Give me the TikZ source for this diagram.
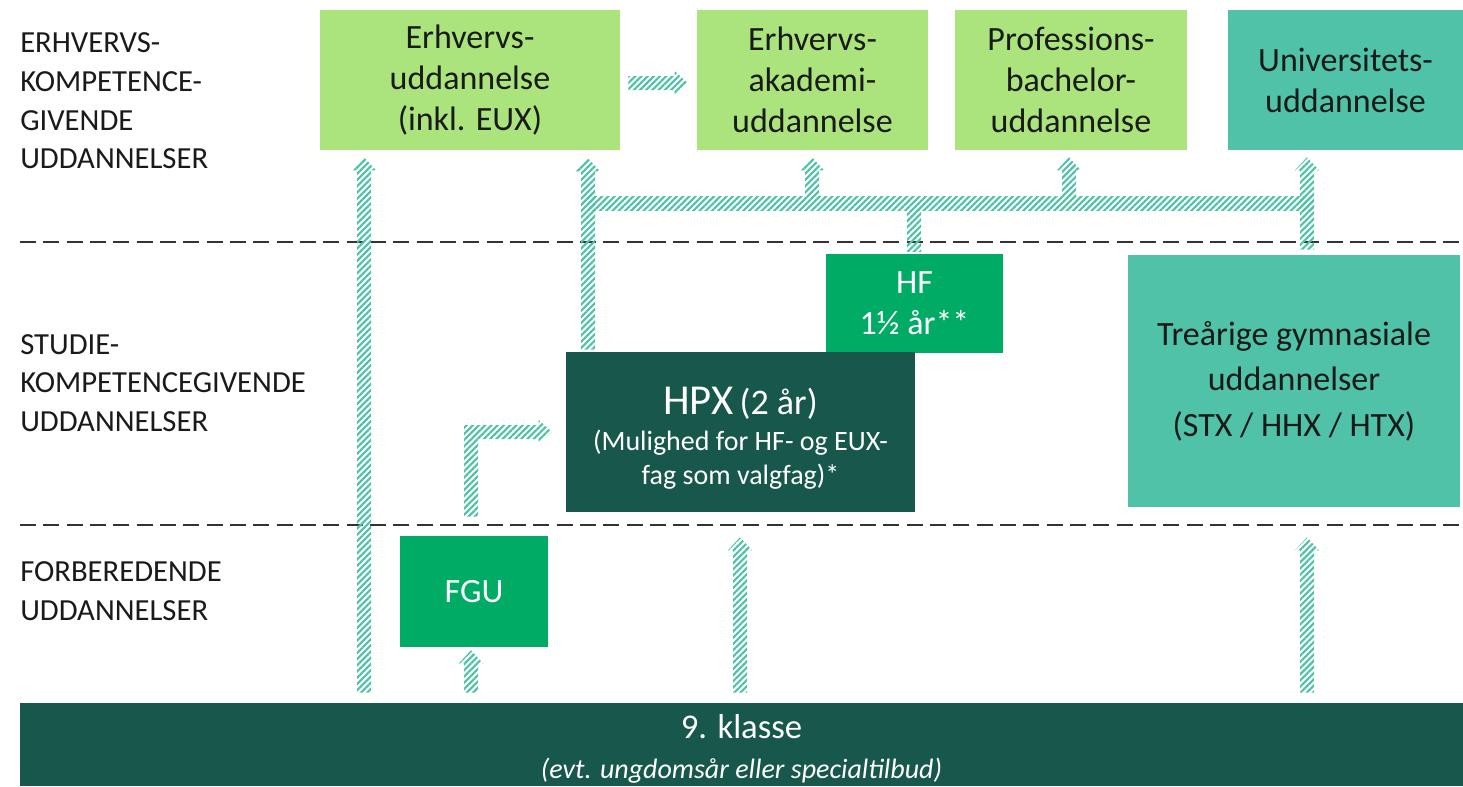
\documentclass[tikz,border=0pt]{standalone}
\usepackage{fontspec}
\setmainfont{Carlito}
\usetikzlibrary{calc,patterns.meta}
\definecolor{lgreen}{HTML}{ABE47C}
\definecolor{tealc}{HTML}{50C2A7}
\definecolor{gcol}{HTML}{00AB66}
\definecolor{dcol}{HTML}{17574C}
\definecolor{hatchc}{HTML}{4EC2A5}
\definecolor{txt}{HTML}{1A1A1A}
\definecolor{dashc}{HTML}{333333}
\tikzset{
  box/.style={rectangle, inner sep=0pt, align=center, font=\fontsize{25.5}{30.75}\selectfont},
  lbox/.style={box, fill=lgreen, text=txt},
  tbox/.style={box, fill=tealc, text=txt},
  gbox/.style={box, fill=gcol, text=white},
  dbox/.style={box, fill=dcol, text=white},
  rowlabel/.style={anchor=west, inner sep=0pt, align=left, text=txt, font=\fontsize{23}{29}\selectfont},
  hatch/.style={pattern={Lines[angle=45,distance=3.3pt,line width=1.6pt]}, pattern color=hatchc},
  dashline/.style={draw=dashc, line width=1.5pt, dash pattern=on 12pt off 5.5pt},
}
\newcommand\vArr[2]{% #1 bottom, #2 tip (same x)
  \fill[hatch] ($(#1)+(-7,0)$) -- ($(#2)+(-7,13)$) -- ($(#2)+(-12,13)$) -- (#2) -- ($(#2)+(12,13)$) -- ($(#2)+(7,13)$) -- ($(#1)+(7,0)$) -- cycle;}
\newcommand\hArr[2]{% #1 start, #2 tip (same y)
  \fill[hatch] ($(#1)+(0,-7)$) -- ($(#2)+(-13,-7)$) -- ($(#2)+(-13,-12)$) -- (#2) -- ($(#2)+(-13,12)$) -- ($(#2)+(-13,7)$) -- ($(#1)+(0,7)$) -- cycle;}
\newcommand\vShaft[2]{% #1 bottom, #2 top
  \fill[hatch] ($(#1)+(-7,0)$) rectangle ($(#2)+(7,0)$);}
\begin{document}
\begin{tikzpicture}[x=0.75pt,y=-0.75pt]
\useasboundingbox (0,0) rectangle (1463,786);
% row labels
\node[rowlabel] (l1) at (20,101) {ERHVERVS-\\KOMPETENCE-\\GIVENDE\\UDDANNELSER};
\node[rowlabel] (l2) at (20,383) {STUDIE-\\KOMPETENCEGIVENDE\\UDDANNELSER};
\node[rowlabel] (l3) at (20,591) {FORBEREDENDE\\UDDANNELSER};
% dashed separators
\draw[dashline] (20,242) -- (1463,242);
\draw[dashline] (20,525) -- (1463,525);
% boxes
\node[lbox, minimum width=225pt, minimum height=105pt] (eud) at (470,80) {Erhvervs-\\uddannelse\\(inkl. EUX)};
\node[lbox, minimum width=173.25pt, minimum height=105pt] (eak) at (812.5,80) {Erhvervs-\\akademi-\\uddannelse};
\node[lbox, minimum width=174pt, minimum height=105pt] (pba) at (1071,80) {Professions-\\bachelor-\\uddannelse};
\node[tbox, minimum width=176.25pt, minimum height=105pt] (uni) at (1345.5,80) {Universitets-\\uddannelse};
\node[gbox, minimum width=132.75pt, minimum height=74.25pt] (hf) at (914.5,303.5) {HF\\1½ år**};
\node[tbox, minimum width=249pt, minimum height=189pt, font=\fontsize{25.5}{34}\selectfont] (tre) at (1294,381) {Treårige gymnasiale\\uddannelser\\(STX / HHX / HTX)};
\node[dbox, minimum width=261.75pt, minimum height=120pt, font=\fontsize{21}{25.5}\selectfont] (hpx) at (740.5,432) {\rule{0pt}{30pt}{\fontsize{32}{34}\selectfont HPX} {\fontsize{27}{30}\selectfont (2 år)}\\[2pt](Mulighed for HF- og EUX-\\fag som valgfag)*};
\node[gbox, minimum width=111pt, minimum height=83.25pt] (fgu) at (474,591.5) {FGU};
\node[dbox, minimum width=1082.25pt, minimum height=62.25pt, font=\fontsize{26}{30}\selectfont] (nine) at (741.5,744.5) {\rule{0pt}{25pt}9. klasse\\[0pt]{\fontsize{21}{24}\itshape\selectfont (evt. ungdomsår eller specialtilbud)}};
% column coordinates
\coordinate (x364) at (364,0);
\coordinate (x471) at (471,0);
\coordinate (x588) at (588,0);
\coordinate (x740) at (740,0);
\coordinate (x812) at (812,0);
\coordinate (x914) at (914,0);
\coordinate (x1069) at (1069,0);
\coordinate (x1307) at (1307,0);
\coordinate (bary) at (0,203);
% nine -> eud
\coordinate (a1b) at ($(nine.north -| x364)+(0,-10)$);
\coordinate (a1t) at ($(eud.south -| x364)+(0,7)$);
\vArr{a1b}{a1t}
% hpx -> eud
\coordinate (a2b) at ($(hpx.north -| x588)+(0,-2)$);
\coordinate (a2t) at ($(eud.south -| x588)+(0,8)$);
\vArr{a2b}{a2t}
% bar
\fill[hatch] ($(x588 |- bary)+(0,-7)$) rectangle ($(x1307 |- bary)+(7,7)$);
% hf -> bar
\coordinate (hfb) at ($(hf.north -| x914)+(0,-2)$);
\coordinate (hft) at ($(x914 |- bary)+(0,7)$);
\vShaft{hfb}{hft}
% bar -> eak, pba
\coordinate (a3b) at ($(x812 |- bary)+(0,-7)$);
\coordinate (a3t) at ($(eak.south -| x812)+(0,7)$);
\vArr{a3b}{a3t}
\coordinate (a4b) at ($(x1069 |- bary)+(0,-7)$);
\coordinate (a4t) at ($(pba.south -| x1069)+(0,7)$);
\vArr{a4b}{a4t}
% tre -> uni
\coordinate (a5b) at ($(tre.north -| x1307)+(0,-5)$);
\coordinate (a5t) at ($(uni.south -| x1307)+(0,7)$);
\vArr{a5b}{a5t}
% eud -> eak
\coordinate (a6s) at ($(eud.east)+(8,3)$);
\coordinate (a6t) at ($(eak.west)+(-9,3)$);
\hArr{a6s}{a6t}
% fgu -> hpx (bent)
\coordinate (a7s) at ($(fgu.north -| x471)+(0,-19)$);
\coordinate (a7t) at ($(hpx.west)+(-14,0)$);
\fill[hatch] ($(a7s)+(-7,0)$) -- ($(a7s |- a7t)+(-7,-7)$) -- ($(a7t)+(-13,-7)$) -- ($(a7t)+(-13,-12)$) -- (a7t) -- ($(a7t)+(-13,12)$) -- ($(a7t)+(-13,7)$) -- ($(a7s |- a7t)+(7,7)$) -- ($(a7s)+(7,0)$) -- cycle;
% nine -> fgu
\coordinate (a8b) at ($(nine.north -| x471)+(0,-10)$);
\coordinate (a8t) at ($(fgu.south -| x471)+(0,3)$);
\vArr{a8b}{a8t}
% nine -> hpx
\coordinate (a9b) at ($(nine.north -| x740)+(0,-10)$);
\coordinate (a9t) at ($(hpx.south -| x740)+(0,25)$);
\vArr{a9b}{a9t}
% nine -> tre
\coordinate (a10b) at ($(nine.north -| x1307)+(0,-10)$);
\coordinate (a10t) at ($(tre.south -| x1307)+(0,30)$);
\vArr{a10b}{a10t}
\end{tikzpicture}
\end{document}
